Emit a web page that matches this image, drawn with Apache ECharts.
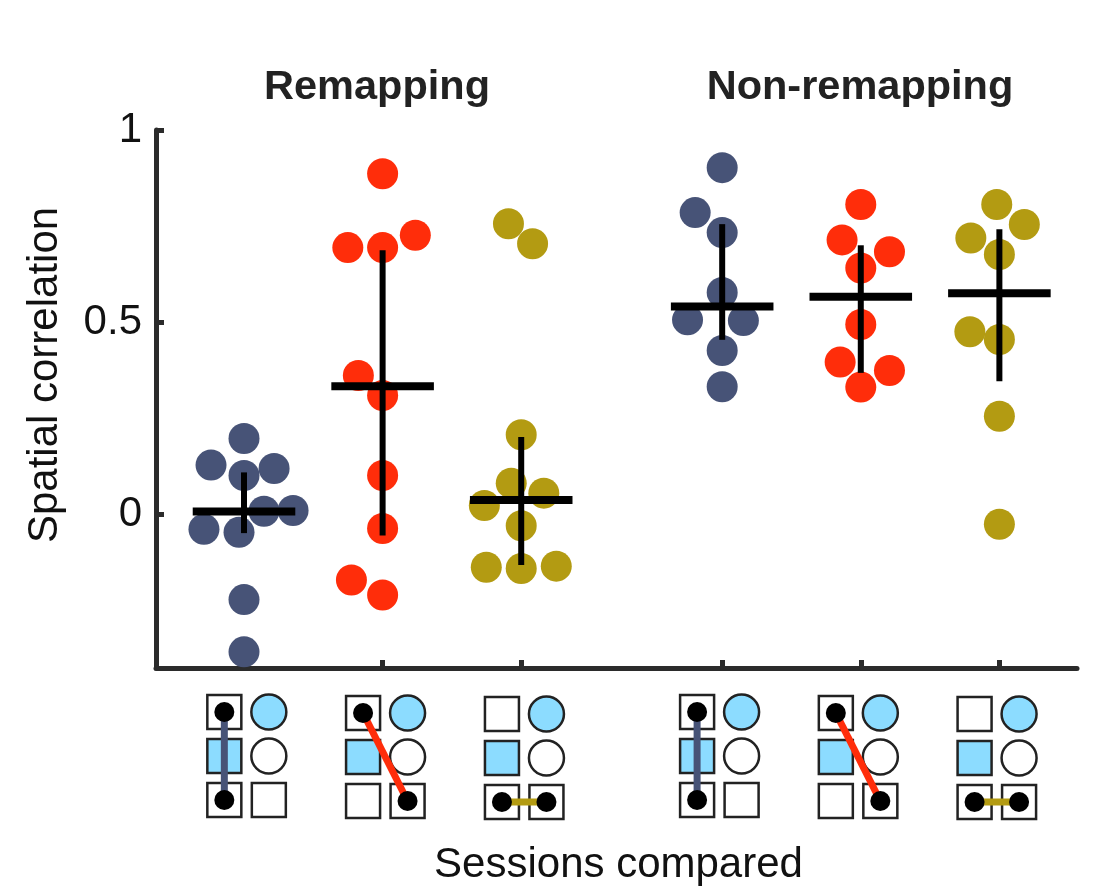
<!DOCTYPE html>
<html>
<head>
<meta charset="utf-8">
<style>html,body{margin:0;background:#fff}#chart{width:1095px;height:891px}</style>
<script src="https://cdn.jsdelivr.net/npm/echarts@6/dist/echarts.min.js"></script>
</head>
<body>
<div id="chart"></div>
<script>
// group centres on the x axis, one per pair of sessions
var groupCentres = [1, 2, 3, 4.45, 5.45, 6.45];
var yTicks = [0, 0.5, 1];

// [x, correlation] of each session pair
var blueLeft = [[1, 0.197], [0.762, 0.128], [1, 0.101], [1.217, 0.119], [1.144, 0.008], [1.354, 0.010], [0.711, -0.039], [0.964, -0.047], [1, -0.222], [1, -0.358]];
var redLeft = [[2, 0.886], [1.749, 0.694], [2, 0.694], [2.236, 0.726], [1.825, 0.361], [2, 0.309], [2, 0.101], [2, -0.037], [1.775, -0.171], [2, -0.210]];
var goldLeft = [[2.908, 0.756], [3.082, 0.704], [3, 0.207], [2.928, 0.081], [3.163, 0.055], [2.734, 0.023], [3, -0.030], [2.748, -0.138], [3, -0.141], [3.253, -0.135]];
var blueRight = [[4.45, 0.902], [4.255, 0.785], [4.45, 0.733], [4.45, 0.577], [4.2, 0.506], [4.603, 0.504], [4.45, 0.426], [4.45, 0.332]];
var redRight = [[5.45, 0.806], [5.315, 0.714], [5.657, 0.683], [5.45, 0.641], [5.45, 0.494], [5.301, 0.396], [5.657, 0.374], [5.45, 0.331]];
var goldRight = [[6.431, 0.806], [6.63, 0.754], [6.244, 0.719], [6.45, 0.676], [6.237, 0.475], [6.45, 0.455], [6.45, 0.255], [6.45, -0.026]];

// mean and error bar ends per group
var means = [0.007, 0.333, 0.037, 0.541, 0.566, 0.575];
var errHigh = [0.109, 0.687, 0.201, 0.755, 0.700, 0.742];
var errLow = [-0.049, -0.055, -0.132, 0.454, 0.368, 0.346];

// pictogram under each group: x of the left column, y nudge, which pair is linked
var iconX = [0.858, 1.859, 2.861, 4.269, 5.27, 6.271];
var iconNudge = [0, 1, 2, 0, 1, 2];
var iconLink = ['blue', 'red', 'gold', 'blue', 'red', 'gold'];

var colors = {blue: '#475377', red: '#ff2d0a', gold: '#b39b12', sky: '#8cdcff', axis: '#2b2b2b', ink: '#222222'};
var font = '"Liberation Sans", Arial, sans-serif';

function dotSeries(data, color) {
	return {
		type: 'scatter',
		data: data,
		symbolSize: 31,
		clip: false,
		silent: true,
		itemStyle: {color: color, opacity: 1}
	};
}

function renderCross(params, api) {
	var i = api.value(0);
	var x = groupCentres[i];
	var halfBar = 0.37;
	var a = api.coord([x, means[i]]);
	var b = api.coord([x - halfBar, means[i]]);
	var c = api.coord([x + halfBar, means[i]]);
	var top = api.coord([x, errHigh[i]]);
	var bottom = api.coord([x, errLow[i]]);
	return {
		type: 'group',
		children: [
			{type: 'line', shape: {x1: a[0], y1: top[1], x2: a[0], y2: bottom[1]}, style: {stroke: '#000', lineWidth: 6}},
			{type: 'line', shape: {x1: b[0], y1: a[1], x2: c[0], y2: a[1]}, style: {stroke: '#000', lineWidth: 8}}
		]
	};
}

function renderIcon(params, api) {
	var i = api.value(0);
	var pos = api.coord([iconX[i], -0.4]);
	var left = pos[0];
	var step = 44.5;
	var rowY = function (r) { return pos[1] + 44 + iconNudge[i] + r * 44; };
	var outline = {stroke: colors.ink, lineWidth: 2.5};
	var box = function (cx, cy, fill) {
		return {type: 'rect', shape: {x: cx - 17, y: cy - 17, width: 34, height: 34}, style: Object.assign({fill: fill}, outline)};
	};
	var ring = function (cx, cy, fill) {
		return {type: 'circle', shape: {cx: cx, cy: cy, r: 17.5}, style: Object.assign({fill: fill}, outline)};
	};
	var children = [
		box(left, rowY(0), '#fff'),
		box(left, rowY(1), colors.sky),
		box(left, rowY(2), '#fff'),
		ring(left + step, rowY(0), colors.sky),
		ring(left + step, rowY(1), '#fff'),
		box(left + step, rowY(2), '#fff')
	];
	var link = iconLink[i];
	var from = link === 'gold' ? [left, rowY(2)] : [left, rowY(0)];
	var to = link === 'blue' ? [left, rowY(2)] : [left + step, rowY(2)];
	children.push({type: 'line', shape: {x1: from[0], y1: from[1], x2: to[0], y2: to[1]}, style: {stroke: colors[link], lineWidth: 7}});
	children.push({type: 'circle', shape: {cx: from[0], cy: from[1], r: 10}, style: {fill: '#000'}});
	children.push({type: 'circle', shape: {cx: to[0], cy: to[1], r: 10}, style: {fill: '#000'}});
	return {type: 'group', children: children};
}

var groupIndex = groupCentres.map(function (c, i) { return [i]; });

var option = {
	animation: false,
	backgroundColor: '#fff',
	title: [
		{text: 'Remapping', left: 372, top: 62, textAlign: 'center', textStyle: {fontFamily: font, fontWeight: 'bold', fontSize: 41.5, color: '#222'}},
		{text: 'Non-remapping', left: 855, top: 62, textAlign: 'center', textStyle: {fontFamily: font, fontWeight: 'bold', fontSize: 41.5, color: '#222'}}
	],
	grid: {left: 156, right: 18, top: 130, bottom: 223, outerBoundsMode: 'none'},
	xAxis: {
		type: 'value',
		min: 0.365,
		max: 7.01,
		splitLine: {show: false},
		axisLine: {onZero: false, lineStyle: {color: colors.axis, width: 5}},
		axisTick: {show: true, inside: true, length: 8, customValues: groupCentres, lineStyle: {color: colors.axis, width: 5}},
		axisLabel: {show: false},
		name: 'Sessions compared',
		nameLocation: 'middle',
		nameGap: 176,
		nameTextStyle: {fontFamily: font, fontSize: 42, color: '#111', padding: [0, 0, 0, 4]}
	},
	yAxis: {
		type: 'value',
		min: -0.4,
		max: 1,
		splitLine: {show: false},
		axisLine: {onZero: false, lineStyle: {color: colors.axis, width: 5}},
		axisTick: {show: true, inside: true, length: 8, customValues: yTicks, lineStyle: {color: colors.axis, width: 5}},
		axisLabel: {customValues: yTicks, margin: 14, fontFamily: font, fontSize: 42, color: '#111', padding: [8, 0, 0, 0]}
	},
	graphic: [{
		type: 'text',
		x: 45,
		y: 375,
		rotation: Math.PI / 2,
		style: {text: 'Spatial correlation', font: '42px ' + font, fill: '#111', textAlign: 'center', textVerticalAlign: 'middle'}
	}],
	series: [
		dotSeries(blueLeft, colors.blue),
		dotSeries(redLeft, colors.red),
		dotSeries(goldLeft, colors.gold),
		dotSeries(blueRight, colors.blue),
		dotSeries(redRight, colors.red),
		dotSeries(goldRight, colors.gold),
		{type: 'custom', data: groupIndex, renderItem: renderCross, clip: false, silent: true, z: 3, encode: {x: 0}},
		{type: 'custom', data: groupIndex, renderItem: renderIcon, clip: false, silent: true, z: 3, encode: {x: 0}}
	]
};

var chart = echarts.init(document.getElementById('chart'));
chart.setOption(option);
</script>
</body>
</html>
